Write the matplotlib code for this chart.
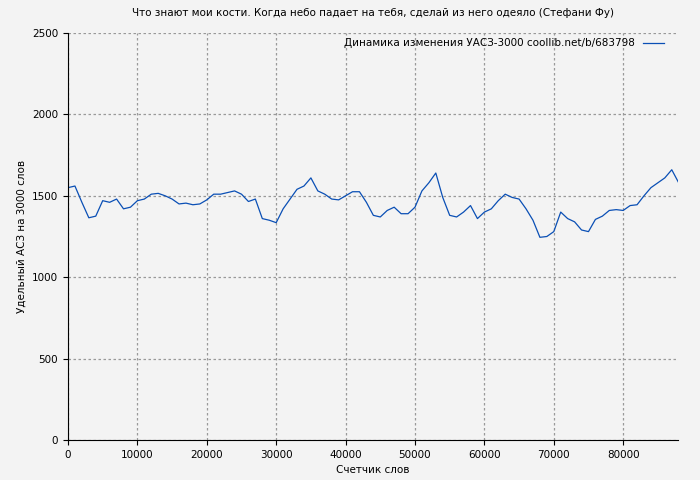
import matplotlib
matplotlib.use("Agg")
import matplotlib.pyplot as plt
import numpy as np

words = np.arange(0, 89000, 1000)
values = [1550, 1560, 1460, 1365, 1375, 1470, 1460, 1480, 1420, 1430,
          1470, 1480, 1510, 1515, 1500, 1480, 1450, 1455, 1445, 1450,
          1475, 1510, 1510, 1520, 1530, 1510, 1465, 1480, 1360, 1350,
          1335, 1420, 1480, 1540, 1560, 1610, 1530, 1510, 1480, 1475,
          1500, 1525, 1525, 1460, 1380, 1370, 1410, 1430, 1390, 1390,
          1430, 1530, 1580, 1640, 1490, 1380, 1370, 1400, 1440, 1360,
          1400, 1420, 1470, 1510, 1490, 1480, 1420, 1350, 1245, 1250,
          1280, 1400, 1360, 1340, 1290, 1280, 1355, 1375, 1410, 1415,
          1410, 1440, 1445, 1500, 1550, 1580, 1610, 1660, 1580]

fig = plt.figure(figsize=(7, 4.8), dpi=100, facecolor="#f3f3f3")
ax = fig.add_axes([68 / 700, 40 / 480, 610 / 700, 407 / 480])
ax.set_facecolor("#f3f3f3")
ax.plot(words, values, color="#0a4fb5", linewidth=0.9,
        label="Динамика изменения УАСЗ-3000 coollib.net/b/683798")
ax.set_xlim(0, 87900)
ax.set_ylim(0, 2500)
ax.set_yticks(range(0, 2501, 500))
ax.set_xticks(range(0, 80001, 10000))
ax.grid(color="#999999", linestyle=(0, (2, 2)), linewidth=0.9)
for side in ["top", "right"]:
    ax.spines[side].set_visible(False)
ax.tick_params(labelsize=7.5)
ax.set_title("Что знают мои кости. Когда небо падает на тебя, сделай из него одеяло (Стефани Фу)",
             fontsize=7.5, pad=12)
ax.set_xlabel("Счетчик слов", fontsize=7.5)
ax.set_ylabel("Удельный АСЗ на 3000 слов", fontsize=7.5)
leg = ax.legend(loc="upper right", fontsize=7.5, frameon=False, markerfirst=False,
                borderaxespad=0.1, bbox_to_anchor=(0.985, 1.0))
fig.savefig("out.png", dpi=100, facecolor=fig.get_facecolor())
